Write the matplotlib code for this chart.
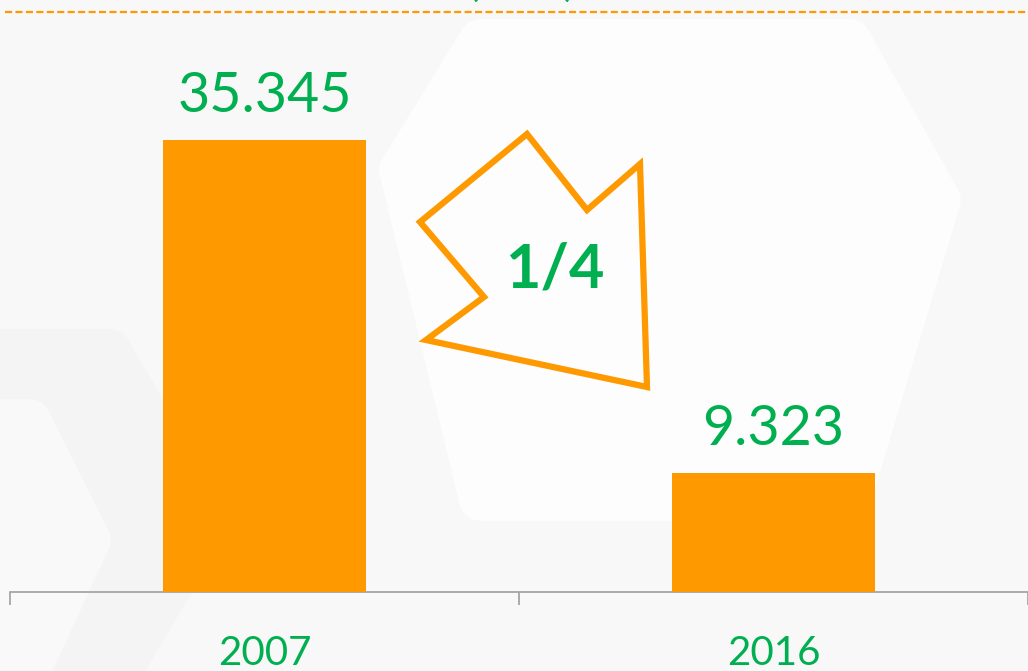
import matplotlib
matplotlib.use('Agg')
import matplotlib.pyplot as plt
from matplotlib.patches import Polygon

years = ['2007', '2016']
values = [35.345, 9.323]
value_labels = ['35.345', '9.323']
ratio_text = '1/4'

GREEN = '#00B050'
ORANGE = '#FF9900'
W, H = 1028, 671

plt.rcParams['font.family'] = ['Lato', 'DejaVu Sans']

fig = plt.figure(figsize=(W / 100, H / 100), dpi=100)
fig.patch.set_facecolor('#F8F8F8')

# background layer in pixel coordinates (origin top-left)
bg = fig.add_axes([0, 0, 1, 1], zorder=-1)
bg.set_xlim(0, W)
bg.set_ylim(H, 0)
bg.axis('off')

bg_shapes = [
    [(400, 170), (480, 40), (850, 40), (940, 200), (850, 500), (480, 500)],
    [(-60, 350), (110, 350), (210, 520), (110, 690), (-60, 690)],
    [(-60, 420), (30, 420), (90, 540), (30, 670), (-60, 670)],
]
bg_colors = ['#FDFDFD', '#F4F4F4', '#F9F9F9']
for pts, c in zip(bg_shapes, bg_colors):
    bg.add_patch(Polygon(pts, closed=True, facecolor=c, edgecolor=c,
                         lw=30, joinstyle='round'))

# dashed rule at the top and the cut-off title
bg.plot([5, W], [12, 12], color=ORANGE, lw=1.6, dashes=(3.2, 1.5))
bg.text(522, -4, '(        )', color=GREEN, fontsize=30,
        ha='center', va='baseline')

ax = fig.add_axes([10 / W, 79 / H, 1018 / W, 512 / H])
ax.set_facecolor('none')
x = range(len(years))
bars = ax.bar(x, values, width=0.4, color=ORANGE, zorder=3)
ax.set_xlim(-0.5, 1.5)
ax.set_ylim(0, 40)

for b, lab in zip(bars, value_labels):
    ax.annotate(lab, (b.get_x() + b.get_width() / 2, b.get_height()),
                xytext=(0, 13), textcoords='offset points', ha='center',
                va='bottom', color=GREEN, fontsize=40)

for s in ['top', 'right', 'left']:
    ax.spines[s].set_visible(False)
ax.spines['bottom'].set_color('#A6A6A6')
ax.spines['bottom'].set_linewidth(1.3)
ax.set_yticks([])
ax.set_xticks(list(x))
ax.set_xticklabels(years, color=GREEN, fontsize=29)
ax.tick_params(axis='x', length=0, pad=31)
ax.set_xticks([-0.5, 0.5, 1.5], minor=True)
ax.tick_params(axis='x', which='minor', length=9, width=1.3, color='#A6A6A6')

# arrow outline with the ratio, drawn on a transparent overlay
top = fig.add_axes([0, 0, 1, 1], zorder=5)
top.set_xlim(0, W)
top.set_ylim(H, 0)
top.axis('off')
arrow_pts = [(527, 134), (587, 210), (640, 164), (647, 387), (426, 340),
             (484, 297), (420, 222)]
top.add_patch(Polygon(arrow_pts, closed=True, facecolor='none',
                      edgecolor=ORANGE, lw=4.5, joinstyle='miter'))
top.text(555, 270, ratio_text, color=GREEN, fontsize=44,
         fontweight='bold', ha='center', va='center')

fig.savefig('out.png', dpi=100, facecolor=fig.get_facecolor())
